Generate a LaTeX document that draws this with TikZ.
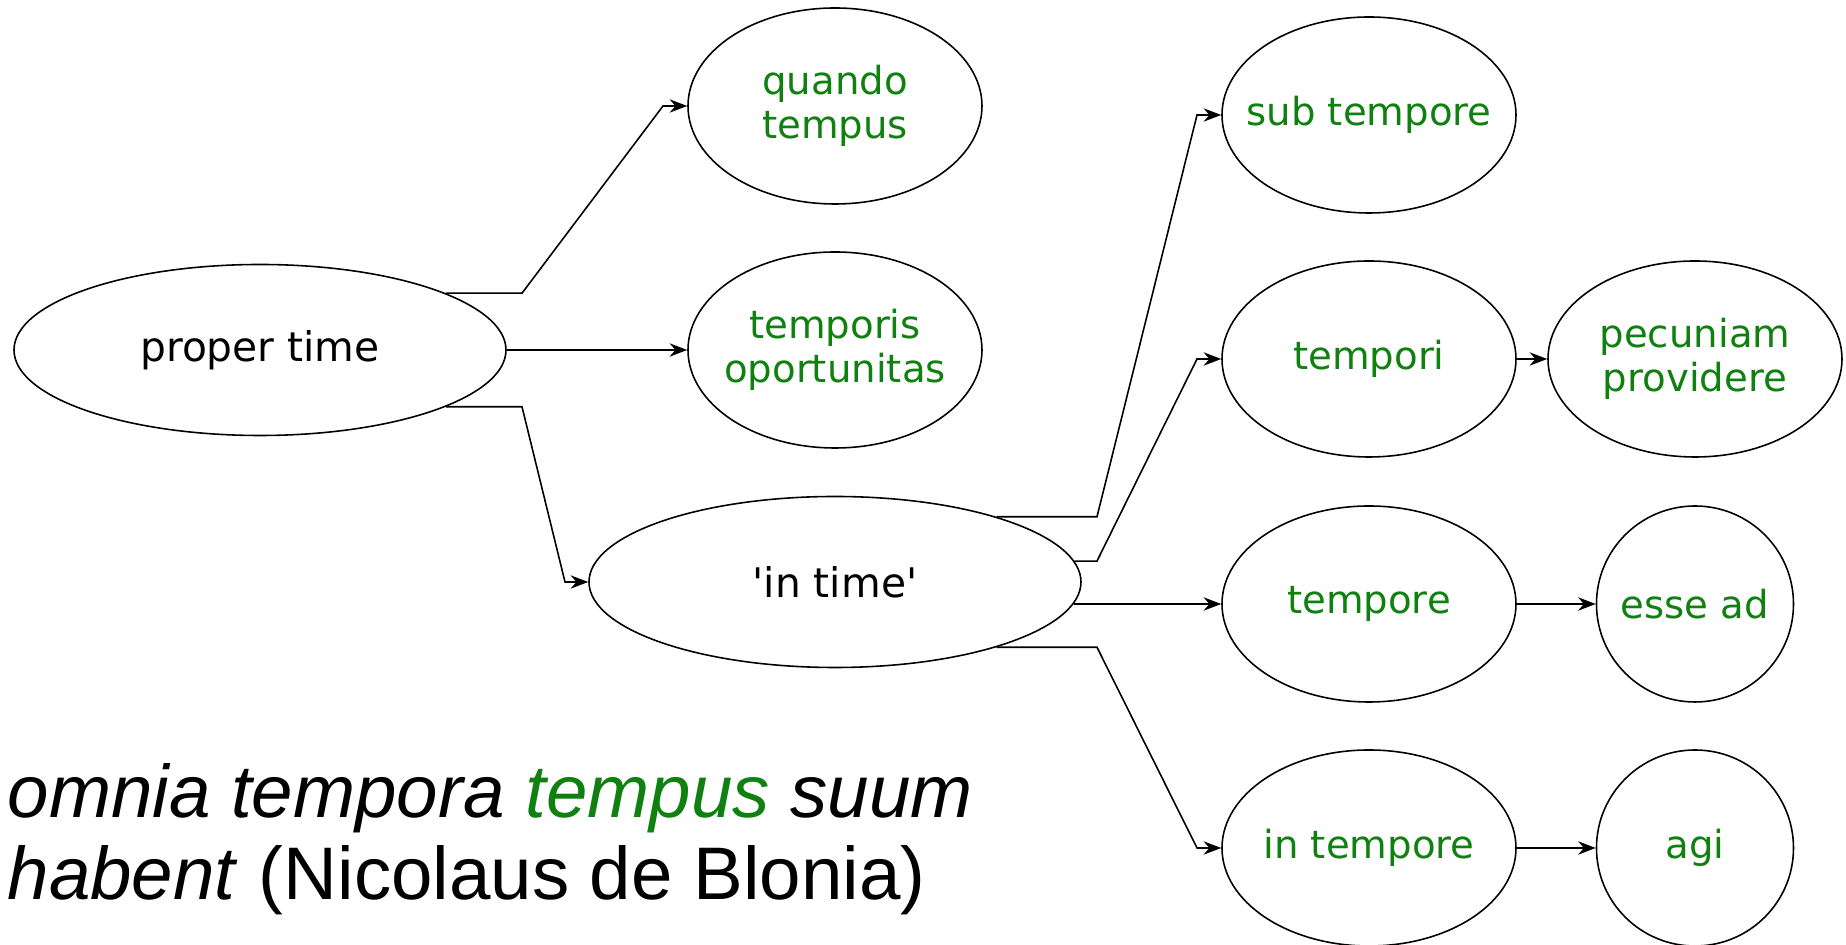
\documentclass[tikz,border=0pt]{standalone}
\usepackage{fontspec}
\setmainfont{DejaVu Sans}
\newfontfamily\quotefont{Liberation Sans}
\usepackage{tikz}
\usetikzlibrary{arrows.meta,shapes.geometric}
\definecolor{latin}{RGB}{16,128,16}

\begin{document}
\begin{tikzpicture}[every node/.style={transform shape},
    term/.style={ellipse,draw,line width=0.45pt,inner xsep=-0.4cm,inner ysep=0pt,minimum width=2.94cm,minimum height=1.96cm,
        align=center,font=\fontsize{11}{12.7}\selectfont,text=latin},
    concept/.style={term,minimum width=4.92cm,minimum height=1.71cm,text=black,font=\fontsize{11.6}{13}\selectfont}]
\useasboundingbox (0,0) rectangle (18.46,-9.45);
%draw vertices
    \node[concept] (pt) at (2.60,-3.50) {proper time};
    \node[term] (qt) at (8.35,-1.06) {quando\\tempus};
    \node[term] (to) at (8.35,-3.50) {temporis\\oportunitas};
    \node[concept] (it) at (8.35,-5.82) {\textquotesingle in time\textquotesingle};
    \node[term] (st) at (13.69,-1.15) {sub tempore};
    \node[term] (tp) at (13.69,-3.59) {tempori};
    \node[term] (pp) at (16.95,-3.59) {pecuniam\\providere};
    \node[term] (te) at (13.69,-6.04) {tempore};
    \node[term,minimum width=1.97cm] (ea) at (16.95,-6.04) {esse ad};
    \node[term] (itp) at (13.69,-8.48) {in tempore};
    \node[term,minimum width=1.97cm] (ag) at (16.95,-8.48) {agi};
%draw directed edges
    \begin{scope}[every path/.style={-{Stealth[length=5pt,width=3.8pt]},line width=0.45pt}]
       \draw (pt.17) -- (5.22,0 |- pt.17) -- (6.63,0 |- qt.west) -- (qt.west);
       \draw (pt.east) -- (to.west);
       \draw (pt.-17) -- (5.22,0 |- pt.-17) -- (5.65,0 |- it.west) -- (it.west);
       \draw (it.22) -- (10.97,0 |- it.22) -- (11.97,0 |- st.west) -- (st.west);
       \draw (it.5) -- (10.97,0 |- it.5) -- (11.97,0 |- tp.west) -- (tp.west);
       \draw (it.-5 |- te.west) -- (te.west);
       \draw (it.-22) -- (10.97,0 |- it.-22) -- (11.97,0 |- itp.west) -- (itp.west);
       \draw (tp.east) -- (pp.west);
       \draw (te.east) -- (ea.west);
       \draw (itp.east) -- (ag.west);
    \end{scope}
%insert quotation
    \node[anchor=base west,inner sep=0pt,align=left,font=\quotefont\fontsize{21.2}{23.4}\selectfont] (quote)
        at (0.07,-9.00) {\textit{omnia tempora \textcolor{latin}{tempus} suum}\\\textit{habent} (Nicolaus de Blonia)};
\end{tikzpicture}
\end{document}
